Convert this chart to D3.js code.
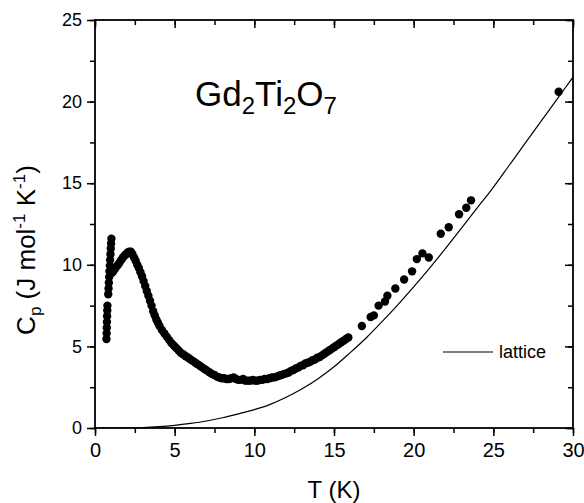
<!DOCTYPE html>
<html><head><meta charset="utf-8">
<script src="https://cdn.jsdelivr.net/npm/d3@7/dist/d3.min.js"></script>
<style>body{margin:0;background:#fff}svg{display:block}text{font-family:"Liberation Sans",Arial,sans-serif;fill:#000}</style>
</head><body><svg id="c" width="584" height="503"></svg>
<script>
// measured Cp data (T in K, Cp in J mol^-1 K^-1)
const measT = [0.72,0.73,0.74,0.75,0.76,0.77,0.78,0.83,0.85,0.87,0.89,0.91,0.93,0.95,0.97,0.99,1.01,1.03,
 1.05,1.15,1.25,1.35,1.45,1.55,1.65,1.75,1.85,1.95,2.05,2.15,2.25,2.35,2.45,2.55,2.65,2.75,2.85,2.95,3.05,3.15,3.25,3.35,3.45,3.55,3.65,3.75,3.85,3.95,4.05,
 4.2,4.35,4.5,4.65,4.8,4.95,5.1,5.25,5.4,5.55,5.7,5.85,6.0,6.15,6.3,6.45,6.6,6.75,6.9,7.05,7.2,7.35,7.5,7.65,7.8,7.95,8.1,8.25,8.4,8.55,8.7,8.85,9.0,9.15,9.3,9.45,9.6,9.75,9.9,
 10.05,10.2,10.35,10.5,10.65,10.8,10.95,11.1,11.25,11.4,11.55,11.7,11.85,12.0,12.15,12.3,12.45,12.6,12.75,12.9,13.05,13.2,13.35,13.5,13.65,13.8,13.95,14.1,14.25,14.4,14.55,14.7,14.85,15.0,15.15,15.3,15.45,15.6,15.75,15.9,
 16.75,17.3,17.5,17.8,18.2,18.35,18.85,19.4,19.9,20.2,20.55,20.95,21.7,22.2,22.85,23.3,23.6,29.1];
const measCp = [5.45,5.8,6.15,6.5,6.85,7.2,7.5,8.2,8.55,8.9,9.25,9.6,9.95,10.3,10.65,11.0,11.3,11.6,
 9.5,9.6,9.75,9.9,10.0,10.15,10.3,10.45,10.55,10.65,10.75,10.8,10.8,10.65,10.45,10.25,10.0,9.8,9.55,9.3,9.0,8.7,8.4,8.1,7.8,7.5,7.15,6.9,6.65,6.45,6.25,
 6.0,5.8,5.6,5.4,5.2,5.05,4.9,4.75,4.6,4.5,4.4,4.3,4.2,4.1,4.0,3.9,3.8,3.7,3.6,3.5,3.4,3.3,3.25,3.15,3.1,3.05,3.05,3.0,3.0,3.05,3.1,3.0,2.95,2.95,3.0,2.9,2.9,2.9,2.95,
 2.9,2.9,2.95,2.95,3.0,3.0,3.05,3.1,3.1,3.15,3.2,3.25,3.3,3.35,3.4,3.5,3.55,3.65,3.7,3.8,3.85,3.95,4.0,4.05,4.15,4.2,4.3,4.35,4.45,4.55,4.65,4.75,4.85,4.95,5.05,5.15,5.25,5.35,5.45,5.55,
 6.25,6.8,6.9,7.5,7.75,8.1,8.55,9.1,9.6,10.35,10.7,10.45,11.9,12.3,13.1,13.5,13.95,20.6];
// lattice contribution
const latT  = [0,1,2,3,4,5,6,7,8,9,10,11,12,13,14,15,16,17,18,19,20,21,22,23,24,25,26,27,28,29,30];
const latCp = [0,0.001,0.01,0.03,0.08,0.16,0.28,0.43,0.63,0.87,1.13,1.45,1.88,2.4,3.02,3.75,4.6,5.5,6.5,7.55,8.65,9.8,11.0,12.25,13.5,14.75,16.1,17.45,18.8,20.15,21.5];
const xTicks = [0,5,10,15,20,25,30];
const yTicks = [0,5,10,15,20,25];

const svg = d3.select("#c");
const L=95, R=573, T=20, B=428;
const x = d3.scaleLinear().domain([0,30]).range([L,R]);
const y = d3.scaleLinear().domain([0,25]).range([B,T]);
const minorX = d3.range(0,30.01,2.5), minorY = d3.range(0,25.01,2.5);

// axes
const sw = 1.8;
svg.append("g").attr("transform",`translate(0,${B})`)
  .call(d3.axisBottom(x).tickValues(minorX).tickSize(5).tickFormat(""));
svg.append("g").attr("transform",`translate(0,${B})`)
  .call(d3.axisBottom(x).tickValues(xTicks).tickSize(8).tickPadding(7).tickFormat(d3.format("d")))
  .call(g=>g.selectAll("text").attr("font-size",20));
svg.append("g").attr("transform",`translate(0,${T})`)
  .call(d3.axisBottom(x).tickValues(minorX).tickSize(5).tickFormat(""));
svg.append("g").attr("transform",`translate(0,${T})`)
  .call(d3.axisBottom(x).tickValues(xTicks).tickSize(8).tickFormat(""));
svg.append("g").attr("transform",`translate(${L},0)`)
  .call(d3.axisLeft(y).tickValues(minorY).tickSize(5).tickFormat(""));
svg.append("g").attr("transform",`translate(${L},0)`)
  .call(d3.axisLeft(y).tickValues(yTicks).tickSize(8).tickPadding(5).tickFormat(d3.format("d")))
  .call(g=>g.selectAll("text").attr("font-size",18));
svg.append("g").attr("transform",`translate(${R},0)`)
  .call(d3.axisLeft(y).tickValues(minorY).tickSize(5).tickFormat(""));
svg.append("g").attr("transform",`translate(${R},0)`)
  .call(d3.axisLeft(y).tickValues(yTicks).tickSize(8).tickFormat(""));
svg.selectAll(".domain").remove();
svg.selectAll(".tick line").attr("stroke","#000").attr("stroke-width",1.5);
svg.selectAll(".tick text").attr("fill","#000").attr("font-family","Liberation Sans, Arial, sans-serif");
svg.append("rect").attr("x",L).attr("y",T).attr("width",R-L).attr("height",B-T)
  .attr("fill","none").attr("stroke","#000").attr("stroke-width",sw);

// lattice line
svg.append("clipPath").attr("id","cl").append("rect").attr("x",L).attr("y",T).attr("width",R-L).attr("height",B-T);
svg.append("path").datum(latT.map((t,i)=>[t,latCp[i]]))
  .attr("clip-path","url(#cl)")
  .attr("fill","none").attr("stroke","#000").attr("stroke-width",1.2)
  .attr("d", d3.line().x(d=>x(d[0])).y(d=>y(d[1])).curve(d3.curveMonotoneX));

// data points
svg.append("g").selectAll("circle").data(measT.map((t,i)=>[t,measCp[i]])).join("circle")
  .attr("cx",d=>x(d[0])).attr("cy",d=>y(d[1])).attr("r",4.2).attr("fill","#000");

// legend
svg.append("line").attr("x1",443).attr("x2",493).attr("y1",352).attr("y2",352).attr("stroke","#000").attr("stroke-width",1.2);
svg.append("text").attr("x",499).attr("y",358).attr("font-size",18).text("lattice");

// title
const tt = svg.append("text").attr("x",195).attr("y",106).attr("font-size",35);
tt.append("tspan").text("Gd");
tt.append("tspan").attr("font-size",24).attr("dy",8).text("2");
tt.append("tspan").attr("dy",-8).text("Ti");
tt.append("tspan").attr("font-size",24).attr("dy",8).text("2");
tt.append("tspan").attr("dy",-8).text("O");
tt.append("tspan").attr("font-size",24).attr("dy",8).text("7");

// axis titles
svg.append("text").attr("x",(L+R)/2).attr("y",498).attr("text-anchor","middle").attr("font-size",24).text("T (K)");
const yl = svg.append("text").attr("transform","translate(35,250) rotate(-90)").attr("text-anchor","middle").attr("font-size",26);
yl.append("tspan").text("C");
yl.append("tspan").attr("font-size",17).attr("dy",6).text("p");
yl.append("tspan").attr("dy",-6).text(" (J mol");
yl.append("tspan").attr("font-size",17).attr("dy",-10).text("-1");
yl.append("tspan").attr("dy",10).text(" K");
yl.append("tspan").attr("font-size",17).attr("dy",-10).text("-1");
yl.append("tspan").attr("dy",10).text(")");
</script></body></html>
